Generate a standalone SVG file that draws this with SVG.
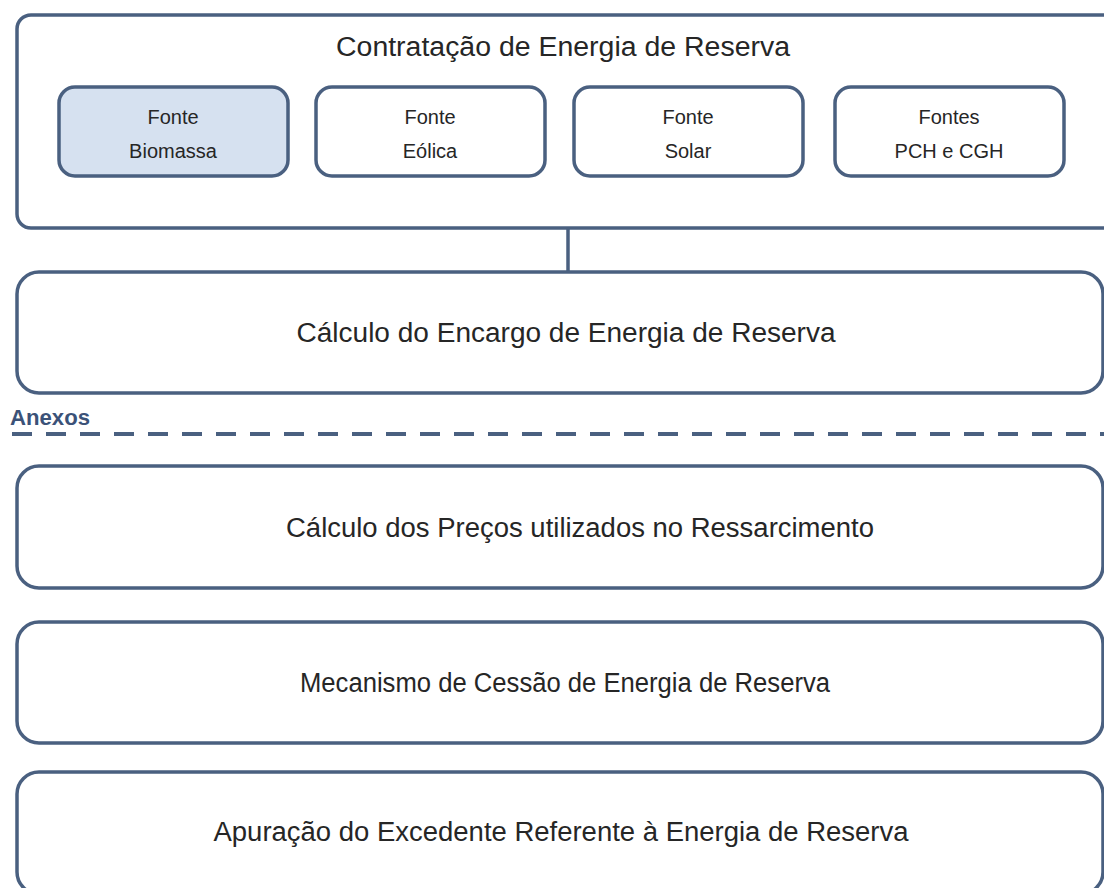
<svg xmlns="http://www.w3.org/2000/svg" width="1104" height="888" viewBox="0 0 1104 888">
<style>
.box{fill:#ffffff;stroke:#4a6080;stroke-width:3.5}
.sub{fill:#ffffff;stroke:#4a6080;stroke-width:3.5}
.hl{fill:#d6e1f0}
.t{font-family:"Liberation Sans",Arial,sans-serif;fill:#262626;text-anchor:middle}
.big{font-size:27px}
.sm{font-size:20px}
.conn{stroke:#4a6080;stroke-width:3.5;fill:none}
</style>
<rect width="1104" height="888" fill="#ffffff"/>
<g id="contratacao">
<rect class="box" x="17" y="15" width="1102" height="213" rx="14"/>
<text class="t big" x="563" y="56" textLength="454" lengthAdjust="spacingAndGlyphs">Contratação de Energia de Reserva</text>
</g>
<g id="biomassa">
<rect class="sub hl" x="59" y="87" width="229" height="89" rx="16"/>
<text class="t sm" x="173" y="124">Fonte</text>
<text class="t sm" x="173" y="158">Biomassa</text>
</g>
<g id="eolica">
<rect class="sub" x="316" y="87" width="229" height="89" rx="16"/>
<text class="t sm" x="430" y="124">Fonte</text>
<text class="t sm" x="430" y="158">Eólica</text>
</g>
<g id="solar">
<rect class="sub" x="574" y="87" width="229" height="89" rx="16"/>
<text class="t sm" x="688" y="124">Fonte</text>
<text class="t sm" x="688" y="158">Solar</text>
</g>
<g id="pch">
<rect class="sub" x="835" y="87" width="229" height="89" rx="16"/>
<text class="t sm" x="949" y="124">Fontes</text>
<text class="t sm" x="949" y="158">PCH e CGH</text>
</g>
<g id="connectors">
<line class="conn" x1="568" y1="228" x2="568" y2="272"/>
</g>
<g id="encargo">
<rect class="box" x="17" y="272" width="1086" height="121" rx="22"/>
<text class="t big" x="566" y="342" textLength="539" lengthAdjust="spacingAndGlyphs">Cálculo do Encargo de Energia de Reserva</text>
</g>
<g id="anexos">
<text x="10" y="425" font-family="Liberation Sans,Arial,sans-serif" font-size="22" font-weight="bold" fill="#3b5278" textLength="80" lengthAdjust="spacingAndGlyphs">Anexos</text>
<line x1="12" y1="434" x2="1104" y2="434" stroke="#4a6080" stroke-width="4" stroke-dasharray="20 14"/>
</g>
<g id="precos">
<rect class="box" x="17" y="466" width="1086" height="122" rx="22"/>
<text class="t big" x="580" y="537" textLength="588" lengthAdjust="spacingAndGlyphs">Cálculo dos Preços utilizados no Ressarcimento</text>
</g>
<g id="cessao">
<rect class="box" x="17" y="622" width="1086" height="121" rx="22"/>
<text class="t big" x="565" y="692" textLength="530" lengthAdjust="spacingAndGlyphs">Mecanismo de Cessão de Energia de Reserva</text>
</g>
<g id="excedente">
<rect class="box" x="17" y="772" width="1086" height="122" rx="22"/>
<text class="t big" x="561" y="841" textLength="695" lengthAdjust="spacingAndGlyphs">Apuração do Excedente Referente à Energia de Reserva</text>
</g>
</svg>
